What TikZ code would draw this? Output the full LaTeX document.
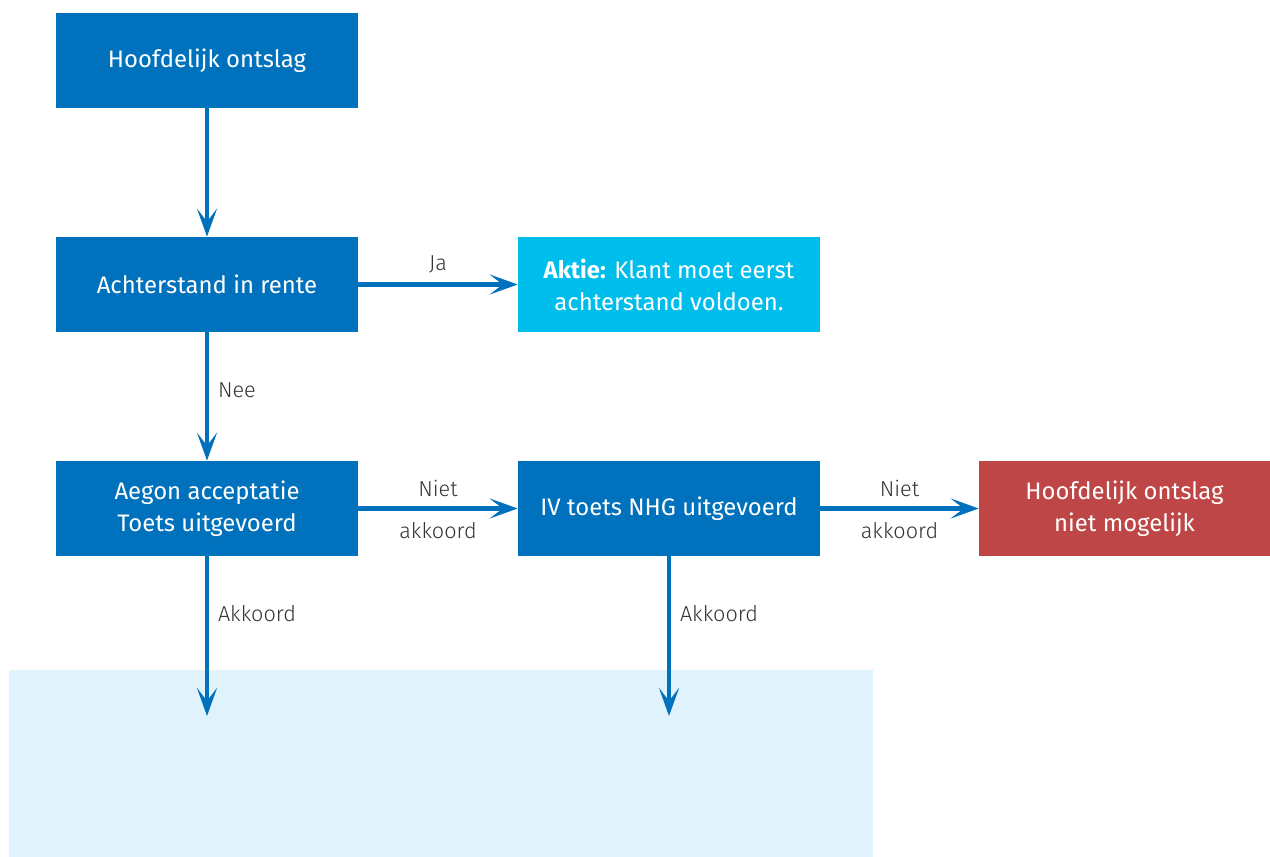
\documentclass[tikz,border=0pt]{standalone}
\usepackage{fontspec}
\setmainfont{Fira Sans}
\newfontfamily\lightfont{Fira Sans Light}
\usetikzlibrary{arrows.meta}
\definecolor{aegonblue}{RGB}{0,113,188}
\definecolor{aktieblue}{RGB}{0,190,236}
\definecolor{stopred}{RGB}{190,70,70}
\definecolor{paleblue}{RGB}{224,242,251}
\tikzset{
  stapbox/.style={fill=aegonblue, text=white, minimum width=6.04cm, minimum height=1.9cm,
    align=center, inner sep=0pt, font=\fontsize{13.6}{18.2}\selectfont},
  pijl/.style={draw=aegonblue, line width=2.3pt, -{Stealth[length=5.6mm,width=4mm,inset=2.6mm]}},
  keuze/.style={text=black!80, font=\fontsize{12.3}{14}\selectfont\lightfont, inner sep=0pt}
}
\begin{document}
\begin{tikzpicture}[x=0.02cm,y=-0.02cm]
        \useasboundingbox (0,0) rectangle (1270,857);
        \fill[paleblue] (9,670) rectangle (873,857);
        % boxes
        \node[stapbox] (ontslag) at (207,60.5) {Hoofdelijk ontslag};
        \node[stapbox] (achterstand) at (207,284.5) {Achterstand in rente};
        \node[stapbox, fill=aktieblue] (aktie) at (669,284.5) {\textbf{Aktie:} Klant moet eerst\\achterstand voldoen.};
        \node[stapbox] (acceptatie) at (207,508.5) {Aegon acceptatie\\Toets uitgevoerd};
        \node[stapbox] (ivtoets) at (669,508.5) {IV toets NHG uitgevoerd};
        \node[stapbox, fill=stopred, minimum width=5.82cm] (nietmogelijk) at (1124.5,508.5) {Hoofdelijk ontslag\\niet mogelijk};
        \coordinate (eindlinks) at (207,716);
        \coordinate (eindrechts) at (669,716);
        % arrows
        \draw[pijl] (ontslag) -- (achterstand);
        \draw[pijl] (achterstand) -- (aktie) node[keuze, midway, yshift=0.4cm] {Ja};
        \draw[pijl] (achterstand) -- (acceptatie) node[keuze, midway, anchor=west, xshift=0.18cm, yshift=0.13cm] {Nee};
        \draw[pijl] (acceptatie) -- (ivtoets) node[keuze, midway, yshift=0.4cm] {Niet} node[keuze, midway, yshift=-0.44cm] {akkoord};
        \draw[pijl] (ivtoets) -- (nietmogelijk) node[keuze, midway, yshift=0.4cm] {Niet} node[keuze, midway, yshift=-0.44cm] {akkoord};
        \draw[pijl] (acceptatie) -- (eindlinks) node[keuze, pos=0.36, anchor=west, xshift=0.18cm] {Akkoord};
        \draw[pijl] (ivtoets) -- (eindrechts) node[keuze, pos=0.36, anchor=west, xshift=0.18cm] {Akkoord};
    \end{tikzpicture}
\end{document}
